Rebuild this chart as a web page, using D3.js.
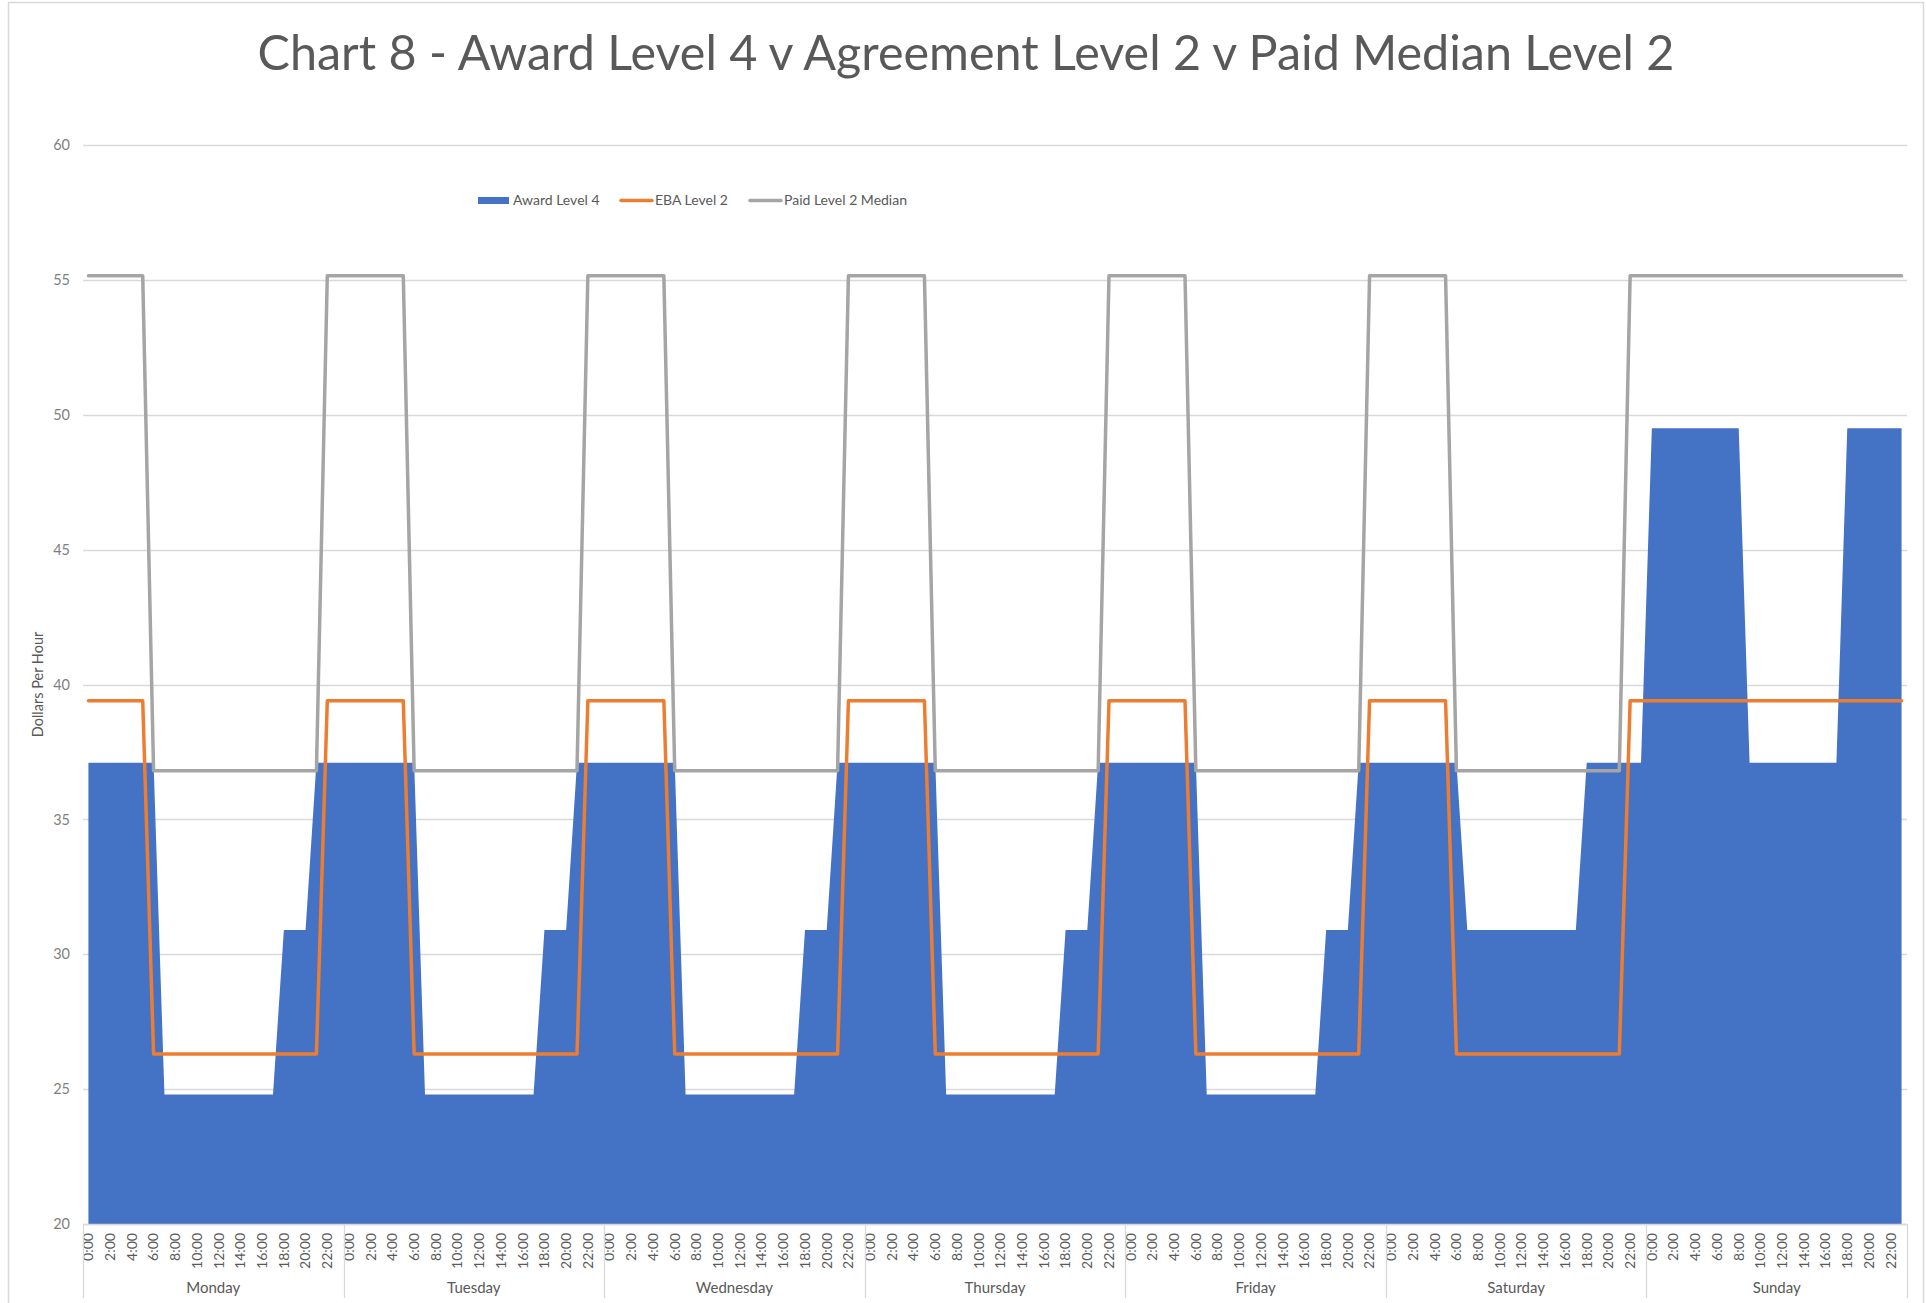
<!DOCTYPE html>
<html>
<head>
<meta charset="utf-8">
<script src="https://cdn.jsdelivr.net/npm/d3@7"></script>
<style>
  html, body { margin: 0; padding: 0; background: #ffffff; }
  svg { display: block; }
  text { font-family: Lato, "Open Sans", "Liberation Sans", sans-serif; }
</style>
</head>
<body>
<svg id="chart" width="1926" height="1303"></svg>
<script>
// ---------------- DATA ----------------
const titleText = "Chart 8 - Award Level 4 v Agreement Level 2 v Paid Median Level 2";
const yAxisTitle = "Dollars Per Hour";
const days = ["Monday", "Tuesday", "Wednesday", "Thursday", "Friday", "Saturday", "Sunday"];
const hours = ["0:00","1:00","2:00","3:00","4:00","5:00","6:00","7:00","8:00","9:00","10:00","11:00",
               "12:00","13:00","14:00","15:00","16:00","17:00","18:00","19:00","20:00","21:00","22:00","23:00"];
const yTicks = [20, 25, 30, 35, 40, 45, 50, 55, 60];
const seriesNames = ["Award Level 4", "EBA Level 2", "Paid Level 2 Median"];

// Award Level 4 (area), one row per day, hourly
const awardLevel4 = [
  37.1,37.1,37.1,37.1,37.1,37.1,37.1,24.8,24.8,24.8,24.8,24.8,24.8,24.8,24.8,24.8,24.8,24.8,30.9,30.9,30.9,37.1,37.1,37.1,
  37.1,37.1,37.1,37.1,37.1,37.1,37.1,24.8,24.8,24.8,24.8,24.8,24.8,24.8,24.8,24.8,24.8,24.8,30.9,30.9,30.9,37.1,37.1,37.1,
  37.1,37.1,37.1,37.1,37.1,37.1,37.1,24.8,24.8,24.8,24.8,24.8,24.8,24.8,24.8,24.8,24.8,24.8,30.9,30.9,30.9,37.1,37.1,37.1,
  37.1,37.1,37.1,37.1,37.1,37.1,37.1,24.8,24.8,24.8,24.8,24.8,24.8,24.8,24.8,24.8,24.8,24.8,30.9,30.9,30.9,37.1,37.1,37.1,
  37.1,37.1,37.1,37.1,37.1,37.1,37.1,24.8,24.8,24.8,24.8,24.8,24.8,24.8,24.8,24.8,24.8,24.8,30.9,30.9,30.9,37.1,37.1,37.1,
  37.1,37.1,37.1,37.1,37.1,37.1,37.1,30.9,30.9,30.9,30.9,30.9,30.9,30.9,30.9,30.9,30.9,30.9,37.1,37.1,37.1,37.1,37.1,37.1,
  49.5,49.5,49.5,49.5,49.5,49.5,49.5,49.5,49.5,37.1,37.1,37.1,37.1,37.1,37.1,37.1,37.1,37.1,49.5,49.5,49.5,49.5,49.5,49.5
];

// EBA Level 2 (orange line)
const ebaLevel2 = [
  39.4,39.4,39.4,39.4,39.4,39.4,26.3,26.3,26.3,26.3,26.3,26.3,26.3,26.3,26.3,26.3,26.3,26.3,26.3,26.3,26.3,26.3,39.4,39.4,
  39.4,39.4,39.4,39.4,39.4,39.4,26.3,26.3,26.3,26.3,26.3,26.3,26.3,26.3,26.3,26.3,26.3,26.3,26.3,26.3,26.3,26.3,39.4,39.4,
  39.4,39.4,39.4,39.4,39.4,39.4,26.3,26.3,26.3,26.3,26.3,26.3,26.3,26.3,26.3,26.3,26.3,26.3,26.3,26.3,26.3,26.3,39.4,39.4,
  39.4,39.4,39.4,39.4,39.4,39.4,26.3,26.3,26.3,26.3,26.3,26.3,26.3,26.3,26.3,26.3,26.3,26.3,26.3,26.3,26.3,26.3,39.4,39.4,
  39.4,39.4,39.4,39.4,39.4,39.4,26.3,26.3,26.3,26.3,26.3,26.3,26.3,26.3,26.3,26.3,26.3,26.3,26.3,26.3,26.3,26.3,39.4,39.4,
  39.4,39.4,39.4,39.4,39.4,39.4,26.3,26.3,26.3,26.3,26.3,26.3,26.3,26.3,26.3,26.3,26.3,26.3,26.3,26.3,26.3,26.3,39.4,39.4,
  39.4,39.4,39.4,39.4,39.4,39.4,39.4,39.4,39.4,39.4,39.4,39.4,39.4,39.4,39.4,39.4,39.4,39.4,39.4,39.4,39.4,39.4,39.4,39.4
];

// Paid Level 2 Median (grey line)
const paidLevel2Median = [
  55.15,55.15,55.15,55.15,55.15,55.15,36.8,36.8,36.8,36.8,36.8,36.8,36.8,36.8,36.8,36.8,36.8,36.8,36.8,36.8,36.8,36.8,55.15,55.15,
  55.15,55.15,55.15,55.15,55.15,55.15,36.8,36.8,36.8,36.8,36.8,36.8,36.8,36.8,36.8,36.8,36.8,36.8,36.8,36.8,36.8,36.8,55.15,55.15,
  55.15,55.15,55.15,55.15,55.15,55.15,36.8,36.8,36.8,36.8,36.8,36.8,36.8,36.8,36.8,36.8,36.8,36.8,36.8,36.8,36.8,36.8,55.15,55.15,
  55.15,55.15,55.15,55.15,55.15,55.15,36.8,36.8,36.8,36.8,36.8,36.8,36.8,36.8,36.8,36.8,36.8,36.8,36.8,36.8,36.8,36.8,55.15,55.15,
  55.15,55.15,55.15,55.15,55.15,55.15,36.8,36.8,36.8,36.8,36.8,36.8,36.8,36.8,36.8,36.8,36.8,36.8,36.8,36.8,36.8,36.8,55.15,55.15,
  55.15,55.15,55.15,55.15,55.15,55.15,36.8,36.8,36.8,36.8,36.8,36.8,36.8,36.8,36.8,36.8,36.8,36.8,36.8,36.8,36.8,36.8,55.15,55.15,
  55.15,55.15,55.15,55.15,55.15,55.15,55.15,55.15,55.15,55.15,55.15,55.15,55.15,55.15,55.15,55.15,55.15,55.15,55.15,55.15,55.15,55.15,55.15,55.15
];

// ---------------- LAYOUT ----------------
const W = 1926, H = 1303;
const plot = { left: 83, right: 1907, top: 145, bottom: 1224 };
const colors = { award: "#4472C4", eba: "#ED7D31", paid: "#A5A5A5" };
const gridColor = "#d9d9d9";
const textColor = "#595959";

const svg = d3.select("#chart");

// chart frame
svg.append("rect")
  .attr("x", 8.5).attr("y", 2.5)
  .attr("width", 1915).attr("height", 1320)
  .attr("fill", "#ffffff")
  .attr("stroke", gridColor).attr("stroke-width", 1.5);

// categories
const cats = [];
days.forEach(d => hours.forEach(h => cats.push(d + "|" + h)));

const x = d3.scaleBand().domain(cats).range([plot.left, plot.right]).padding(0);
const xc = c => x(c) + x.bandwidth() / 2;
const y = d3.scaleLinear().domain([20, 60]).range([plot.bottom, plot.top]);

// gridlines
svg.append("g").selectAll("line").data(yTicks).join("line")
  .attr("x1", plot.left).attr("x2", plot.right)
  .attr("y1", d => Math.round(y(d)) + 0.5).attr("y2", d => Math.round(y(d)) + 0.5)
  .attr("stroke", gridColor).attr("stroke-width", 1.3);

// y axis labels
const yAxis = d3.axisLeft(y).tickValues(yTicks).tickSize(0).tickPadding(0);
const gy = svg.append("g").attr("transform", `translate(${plot.left - 13},0)`).call(yAxis);
gy.select(".domain").remove();
gy.selectAll("text").attr("fill", "#7f7f7f").style("font-size", "14.5px").attr("font-family", "Lato, 'Open Sans', sans-serif");

// area
const pts = cats.map((c, i) => ({ c, a: awardLevel4[i], e: ebaLevel2[i], p: paidLevel2Median[i] }));
svg.append("path").datum(pts)
  .attr("fill", colors.award)
  .attr("d", d3.area().x(d => xc(d.c)).y0(y(20)).y1(d => y(d.a)));

// lines
svg.append("path").datum(pts)
  .attr("fill", "none").attr("stroke", colors.eba).attr("stroke-width", 3.5)
  .attr("stroke-linejoin", "round").attr("stroke-linecap", "round")
  .attr("d", d3.line().x(d => xc(d.c)).y(d => y(d.e)));
svg.append("path").datum(pts)
  .attr("fill", "none").attr("stroke", colors.paid).attr("stroke-width", 3.5)
  .attr("stroke-linejoin", "round").attr("stroke-linecap", "round")
  .attr("d", d3.line().x(d => xc(d.c)).y(d => y(d.p)));

// x axis line
svg.append("line")
  .attr("x1", plot.left).attr("x2", plot.right)
  .attr("y1", plot.bottom + 0.5).attr("y2", plot.bottom + 0.5)
  .attr("stroke", gridColor).attr("stroke-width", 1.3);

// hour tick labels
const xAxis = d3.axisBottom(x)
  .tickValues(cats.filter((c, i) => i % 2 === 0))
  .tickFormat(c => c.split("|")[1])
  .tickSize(0);
const gx = svg.append("g").attr("transform", `translate(0,${plot.bottom})`).call(xAxis);
gx.select(".domain").remove();
gx.selectAll("text")
  .attr("transform", "rotate(-90)")
  .attr("text-anchor", "end")
  .attr("x", -9).attr("y", 0).attr("dy", "0.35em")
  .attr("fill", textColor)
  .style("font-size", "14px")
  .attr("font-family", "Lato, 'Open Sans', sans-serif");

// day dividers and labels
const dayBounds = days.map(d => x(d + "|" + hours[0])).concat([plot.right]);
svg.append("g").selectAll("line").data(dayBounds).join("line")
  .attr("x1", d => Math.round(d) + 0.5).attr("x2", d => Math.round(d) + 0.5)
  .attr("y1", plot.bottom).attr("y2", 1298)
  .attr("stroke", gridColor).attr("stroke-width", 1.3);
svg.append("g").selectAll("text").data(days).join("text")
  .attr("x", (d, i) => (dayBounds[i] + dayBounds[i + 1]) / 2)
  .attr("y", 1293)
  .attr("text-anchor", "middle")
  .attr("fill", textColor)
  .style("font-size", "15px")
  .text(d => d);

// y axis title
svg.append("text")
  .attr("transform", `translate(43,${(plot.top + plot.bottom) / 2}) rotate(-90)`)
  .attr("text-anchor", "middle")
  .attr("fill", textColor)
  .style("font-size", "14.5px")
  .text(yAxisTitle);

// title (fit to measured width of reference)
const title = svg.append("text")
  .attr("x", 966).attr("y", 70)
  .attr("text-anchor", "middle")
  .attr("fill", textColor)
  .style("font-size", "40px")
  .text(titleText);
const tl = title.node().getComputedTextLength();
title.style("font-size", (40 * 1417 / tl).toFixed(2) + "px");

// legend
const legendItems = [
  { name: seriesNames[0], color: colors.award, type: "rect", x: 478 },
  { name: seriesNames[1], color: colors.eba, type: "line", x: 620 },
  { name: seriesNames[2], color: colors.paid, type: "line", x: 749 }
];
const lg = svg.append("g");
legendItems.forEach(it => {
  if (it.type === "rect") {
    lg.append("rect").attr("x", it.x).attr("y", 197).attr("width", 31).attr("height", 7).attr("fill", it.color);
  } else {
    lg.append("line").attr("x1", it.x + 1).attr("x2", it.x + 32).attr("y1", 200.5).attr("y2", 200.5)
      .attr("stroke", it.color).attr("stroke-width", 3.5).attr("stroke-linecap", "round");
  }
  lg.append("text").attr("x", it.x + 35).attr("y", 205)
    .attr("fill", textColor).style("font-size", "14px").text(it.name);
});
</script>
</body>
</html>
